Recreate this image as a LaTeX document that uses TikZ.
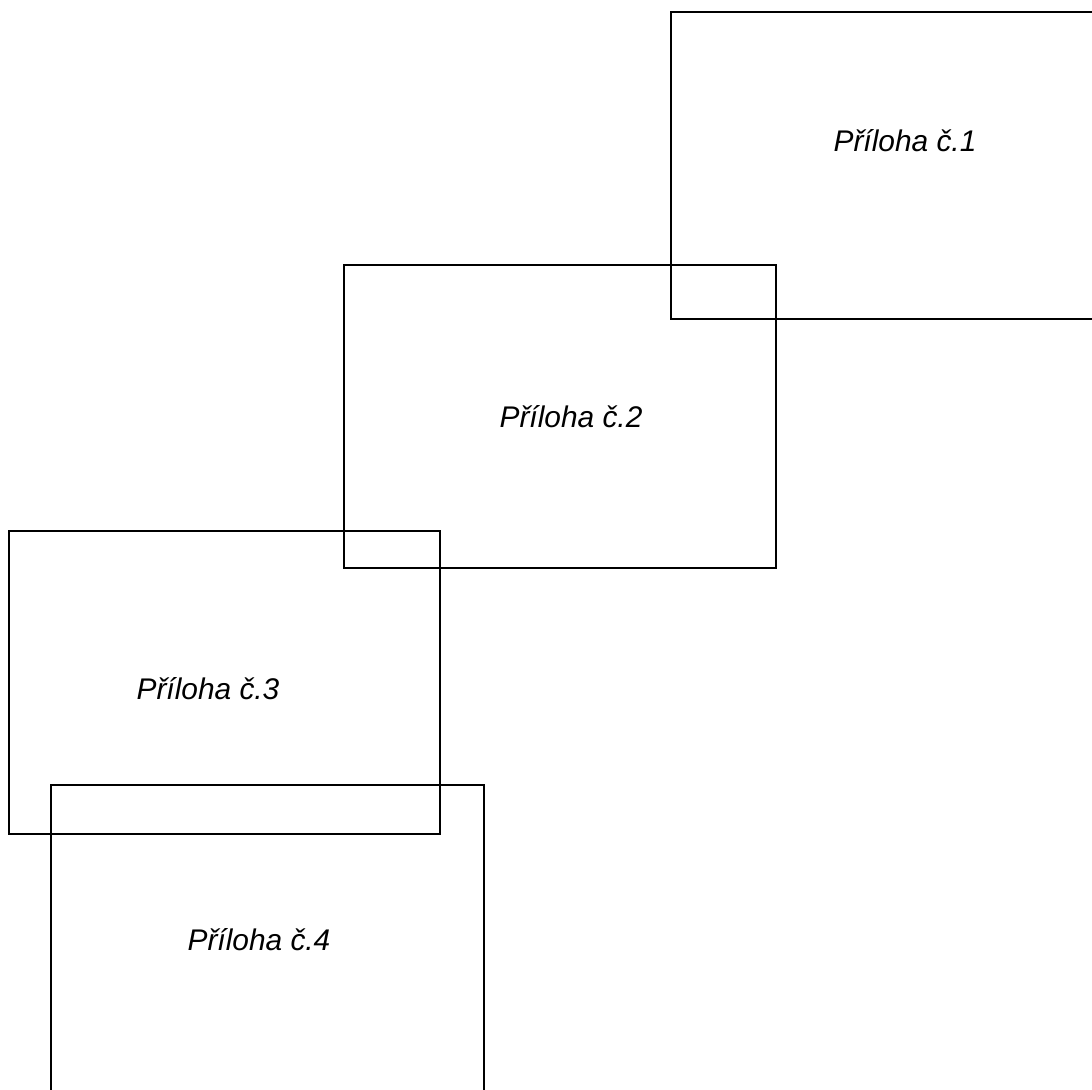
\documentclass[tikz,border=0pt]{standalone}
\usepackage{fontspec}
\setmainfont{Liberation Sans}
\usepackage{tikz}

\begin{document}
\begin{tikzpicture}[x=0.02cm, y=0.02cm, line width=1.3pt,
  every node/.style={font=\itshape\fontsize{17}{20}\selectfont}]
\useasboundingbox (0,0) rectangle (1092,1089);
\clip (0,0) rectangle (1092,1089);
% sheet frames
\foreach \xa/\ya/\xb/\yb in {671/770/1103/1077, 344/521/776/824, 9/255/440/558, 51/-20/484/304} {
  \draw (\xa,\ya) rectangle (\xb,\yb);
}
% sheet labels
\foreach \i/\x/\y in {1/905/948, 2/571/672, 3/208/400, 4/259/149} {
  \node (lab\i) at (\x,\y) {Příloha č.\i};
}
\end{tikzpicture}
\end{document}
